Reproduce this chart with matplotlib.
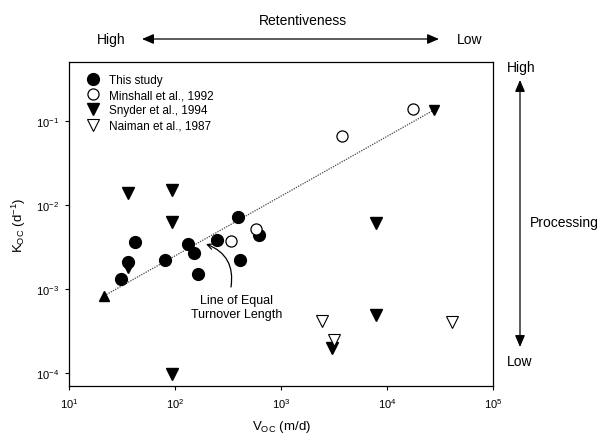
import matplotlib
matplotlib.use("Agg")
import matplotlib.pyplot as plt

plt.rcParams['font.family'] = ['Liberation Sans', 'DejaVu Sans']
plt.rcParams['mathtext.default'] = 'regular'

# ---- data ----
this_v = [31, 36, 42, 80, 134, 152, 164, 249, 393, 410, 620]
this_k = [1.32e-3, 2.11e-3, 3.63e-3, 2.21e-3, 3.44e-3, 2.71e-3, 1.49e-3, 3.86e-3, 7.1e-3, 2.21e-3, 4.4e-3]

minshall_v = [335, 585, 3740, 17600]
minshall_k = [3.73e-3, 5.2e-3, 0.0668, 0.139]

snyder_v = [36, 36, 94, 94, 94, 3050, 7930, 7930]
snyder_k = [0.0138, 1.85e-3, 0.0152, 6.2e-3, 9.8e-5, 1.97e-4, 6.1e-3, 4.94e-4]

naiman_v = [2440, 3185, 41300]
naiman_k = [4.2e-4, 2.47e-4, 4.04e-4]

line_v = [21.5, 27700]
line_k = [8.3e-4, 0.135]

legend_labels = ["This study", "Minshall et al., 1992", "Snyder et al., 1994", "Naiman et al., 1987"]

# ---- figure ----
W, H = 609, 439
fig = plt.figure(figsize=(W / 100, H / 100), dpi=100)
ax = fig.add_axes([69 / W, 1 - 387 / H, (493 - 69) / W, (387 - 63) / H])
ax.set_xscale('log')
ax.set_yscale('log')
ax.set_xlim(10, 1e5)
ax.set_ylim(7.0e-5, 0.503)

# line of equal turnover length
ax.plot(line_v, line_k, linestyle=(0, (1, 1)), color='#444444', lw=0.9, zorder=2)
ax.plot(line_v[0], line_k[0], marker='^', color='black', ms=7, ls='none', zorder=3)
ax.plot(line_v[1], line_k[1], marker='v', color='black', ms=7, ls='none', zorder=3)

h1, = ax.plot(this_v, this_k, 'o', color='black', ms=8.5, ls='none', zorder=4)
h2, = ax.plot(minshall_v, minshall_k, 'o', mfc='white', mec='black', mew=0.9, ms=8, ls='none', zorder=5)
h3, = ax.plot(snyder_v, snyder_k, 'v', color='black', ms=8.5, ls='none', zorder=4)
h4, = ax.plot(naiman_v, naiman_k, 'v', mfc='white', mec='black', mew=0.8, ms=8.5, ls='none', zorder=5)

ax.legend([h1, h2, h3, h4], legend_labels, loc='upper left', frameon=False,
          fontsize=8.5, handletextpad=0.75, labelspacing=0.28,
          bbox_to_anchor=(0.01, 1.0), borderaxespad=0.6, handlelength=1.3)

ax.minorticks_off()
ax.tick_params(which='major', direction='out', length=3, width=0.8, labelsize=8,
               top=False, right=False, pad=4)
for s in ax.spines.values():
    s.set_linewidth(0.9)

ax.set_xlabel(r"V$_{OC}$ (m/d)", fontsize=9.5, labelpad=6)
ax.set_ylabel(r"K$_{OC}$ (d$^{-1}$)", fontsize=9.5, labelpad=6)

# annotation
ax.text(237, H - 308, "Line of Equal\nTurnover Length", transform=None,
        ha='center', va='center', fontsize=9, linespacing=1.2)
ax.annotate("", xy=(206, H - 245), xycoords='figure pixels',
            xytext=(231, H - 288), textcoords='figure pixels',
            arrowprops=dict(arrowstyle='->', color='black', lw=0.9,
                            connectionstyle='arc3,rad=0.4', shrinkA=0, shrinkB=0))

def fx(x):
    return x / W

def fy(y):
    return 1 - y / H

# top retentiveness
fig.text(fx(303), fy(21), "Retentiveness", ha='center', va='center', fontsize=10)
fig.text(fx(97), fy(40), "High", ha='left', va='center', fontsize=10)
fig.text(fx(457), fy(40), "Low", ha='left', va='center', fontsize=10)
fig.add_artist(matplotlib.patches.FancyArrowPatch(
    (fx(142), fy(40)), (fx(439), fy(40)), transform=fig.transFigure,
    arrowstyle='<|-|>,head_length=0.7,head_width=0.3', mutation_scale=10,
    color='black', lw=0.9, shrinkA=0, shrinkB=0))

# right processing
fig.text(fx(507), fy(68), "High", ha='left', va='center', fontsize=10)
fig.text(fx(507), fy(362), "Low", ha='left', va='center', fontsize=10)
fig.text(fx(530), fy(223), "Processing", ha='left', va='center', fontsize=10)
fig.add_artist(matplotlib.patches.FancyArrowPatch(
    (fx(520), fy(81)), (fx(520), fy(348)), transform=fig.transFigure,
    arrowstyle='<|-|>,head_length=0.7,head_width=0.3', mutation_scale=10,
    color='black', lw=0.9, shrinkA=0, shrinkB=0))

fig.savefig("out.png", dpi=100)
